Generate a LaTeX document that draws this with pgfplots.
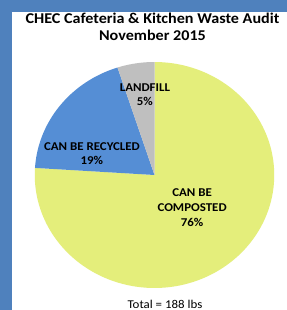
\documentclass[border=0pt]{standalone}
\usepackage{pgfplots}
\pgfplotsset{compat=1.18}
\usepackage{fontspec}
\setmainfont{Carlito}
\definecolor{compc}{HTML}{E4EE7B}
\definecolor{recyc}{HTML}{558ED5}
\definecolor{landc}{HTML}{BFBFBF}
\definecolor{framec}{HTML}{4F81BD}
% data (percent)
\def\vcomp{76}
\def\vrecy{19}
\def\vland{5}
\begin{document}
\begin{tikzpicture}[x=1bp,y=1bp]
\useasboundingbox (0,0) rectangle (287,310);
\fill[white] (0,0) rectangle (287,310);
\fill[framec] (0,0) rectangle (12,310);
\fill[framec] (0,298) rectangle (287,310);
\pgfmathsetmacro{\aA}{90}
\pgfmathsetmacro{\aB}{90-3.6*\vcomp}
\pgfmathsetmacro{\aC}{\aB-3.6*\vrecy}
\pgfmathsetmacro{\aD}{\aC-3.6*\vland}
\begin{axis}[at={(154.5bp,135bp)}, anchor=center, scale only axis,
  width=239.5bp, height=226bp, xmin=-1, xmax=1, ymin=-1, ymax=1,
  hide axis, clip=false]
\addplot[fill=compc, draw=none, domain=\aB:\aA, samples=120] ({cos(x)},{sin(x)}) -- (axis cs:0,0) -- cycle;
\addplot[fill=recyc, draw=none, domain=\aC:\aB, samples=40] ({cos(x)},{sin(x)}) -- (axis cs:0,0) -- cycle;
\addplot[fill=landc, draw=none, domain=\aD:\aC, samples=20] ({cos(x)},{sin(x)}) -- (axis cs:0,0) -- cycle;
\node[align=center, xscale=1.08, transform shape, font=\fontsize{12}{14}\selectfont\bfseries] at (axis cs:-0.08,0.71) {LANDFILL\\5\%};
\node[align=center, xscale=1.08, transform shape, font=\fontsize{12}{13.5}\selectfont\bfseries] at (axis cs:-0.523,0.19) {CAN BE RECYCLED\\19\%};
\node[align=center, xscale=1.08, transform shape, font=\fontsize{12}{15}\selectfont\bfseries] at (axis cs:0.314,-0.29) {CAN BE\\COMPOSTED\\76\%};
\end{axis}
\node[align=center, xscale=1.08, transform shape, font=\fontsize{15}{16.5}\selectfont\bfseries] at (152.5,283) {CHEC Cafeteria \& Kitchen Waste Audit\\November 2015};
\node[anchor=base, xscale=1.08, transform shape, font=\fontsize{12}{12}\selectfont] at (165,1.5) {Total = 188 lbs};
\end{tikzpicture}
\end{document}
